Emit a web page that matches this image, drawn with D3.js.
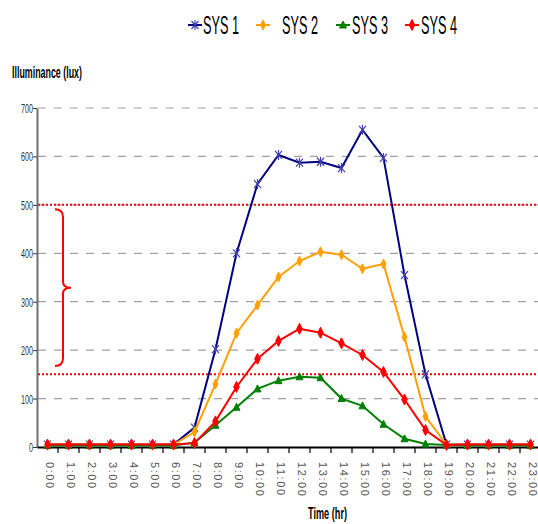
<!DOCTYPE html>
<html>
<head>
<meta charset="utf-8">
<script src="https://d3js.org/d3.v7.min.js"></script>
<style>
  body { margin: 0; background: #fff; }
  text { font-family: "Liberation Sans", Arial, sans-serif; }
</style>
</head>
<body>
<svg id="chart" width="538" height="524"></svg>
<script>
// ---- data ----
var hours = ["0:00","1:00","2:00","3:00","4:00","5:00","6:00","7:00","8:00","9:00","10:00","11:00",
             "12:00","13:00","14:00","15:00","16:00","17:00","18:00","19:00","20:00","21:00","22:00","23:00"]
var sys1 = [5,5,5,5,5,5,5,40,202,400,543,603,587,589,576,655,597,355,150,5,5,5,5,5]
var sys2 = [5,5,5,5,5,5,5,31,130,235,293,351,384,403,397,368,378,227,63,5,5,5,5,5]
var sys3 = [3,3,3,3,3,3,3,9,45,82,120,137,145,143,100,85,47,17,6,4,3,3,3,3]
var sys4 = [5,5,5,5,5,5,5,8,53,124,182,219,244,236,214,190,155,98,35,4,5,5,5,5]
var seriesNames = ["SYS 1","SYS 2","SYS 3","SYS 4"]
var seriesColors = ["#000080","#ffa000","#008000","#ff0000"]
var yTicks = [0,100,200,300,400,500,600,700]
var limits = [500,150]
var braceRange = [167,495]

var svg = d3.select("#chart")
// note: "top" is taken by window.top, so plot edges get their own names
var plotLeft = 37, plotRight = 541, plotTop = 108, plotBottom = 447

var x = d3.scaleBand().domain(hours).range([plotLeft, plotRight])
var y = d3.scaleLinear().domain([0, 700]).range([plotBottom, plotTop])

// gridlines
svg.append("g").selectAll("line")
  .data(yTicks.filter(function(d) { return d > 0 }))
  .enter().append("line")
  .attr("x1", plotLeft + 1).attr("x2", 538)
  .attr("y1", function(d) { return y(d) }).attr("y2", function(d) { return y(d) })
  .attr("stroke", "#a0a0a0").attr("stroke-width", 1.2)
  .attr("stroke-dasharray", "8,8")

// threshold lines
svg.append("g").selectAll("line")
  .data(limits).enter().append("line")
  .attr("x1", plotLeft + 1).attr("x2", 536)
  .attr("y1", function(d) { return y(d) }).attr("y2", function(d) { return y(d) })
  .attr("stroke", "#ff0000").attr("stroke-width", 2)
  .attr("stroke-dasharray", "2,2")

// brace
var bt = y(braceRange[1]) + 2, bb = y(braceRange[0]), bm = (bt + bb) / 2
svg.append("path")
  .attr("d", "M55," + bt + " Q63," + bt + " 63," + (bt + 8) +
    " L63," + (bm - 6) + " Q63," + bm + " 71," + bm +
    " Q63," + bm + " 63," + (bm + 6) +
    " L63," + (bb - 8) + " Q63," + bb + " 55," + bb)
  .attr("fill", "none").attr("stroke", "#ff0000").attr("stroke-width", 2)

// y axis
var yAxis = svg.append("g")
  .attr("transform", "translate(" + plotLeft + ",0)")
  .call(d3.axisLeft(y).tickValues(yTicks).tickSize(4).tickSizeOuter(0))
yAxis.select(".domain").attr("stroke", "#707070").attr("stroke-width", 2)
yAxis.selectAll(".tick line").attr("stroke", "#333")
yAxis.selectAll(".tick text")
  .attr("x", -4).attr("dy", "0.35em")
  .attr("font-size", 13).attr("fill", "#333")
  .attr("textLength", function(d) { return d === 0 ? 4 : 12 })
  .attr("lengthAdjust", "spacingAndGlyphs")

// x axis
var xAxis = svg.append("g")
  .attr("transform", "translate(0," + plotBottom + ")")
  .call(d3.axisBottom(x).tickSize(0).tickSizeOuter(0))
xAxis.select(".domain").attr("stroke", "#000").attr("stroke-width", 2)
xAxis.selectAll(".tick text")
  .attr("transform", "rotate(90)")
  .attr("x", 15).attr("y", -2).attr("dy", "0.35em")
  .attr("text-anchor", "start")
  .attr("font-size", 11).attr("fill", "#555")
  .attr("letter-spacing", 1.6)
// tick marks between categories
svg.append("g").selectAll("line")
  .data(hours.slice(1))
  .enter().append("line")
  .attr("x1", function(d) { return x(d) }).attr("x2", function(d) { return x(d) })
  .attr("y1", plotBottom).attr("y2", plotBottom + 6)
  .attr("stroke", "#000").attr("stroke-width", 1.2)

// marker shapes
function markerPath(i) {
  if (i === 0) return "M0,-5L0,5M-3.5,-4L3.5,4M-3.5,4L3.5,-4"
  if (i === 1) return "M0,-5L2.5,0L0,5L-2.5,0Z"
  if (i === 2) return "M0,-4L3.5,3L-3.5,3Z"
  return "M0,-5.5L2.8,0L0,5.5L-2.8,0Z"
}
function drawMarker(g, i) {
  var p = g.append("path").attr("d", markerPath(i))
  if (i === 0) p.attr("fill", "none").attr("stroke", "#4040b0").attr("stroke-width", 1.2)
  else p.attr("fill", seriesColors[i]).attr("stroke", seriesColors[i]).attr("stroke-width", 1)
}

var allSeries = [sys1, sys2, sys3, sys4]
var line = d3.line()
  .x(function(d, i) { return x(hours[i]) + x.bandwidth() / 2 })
  .y(function(d) { return y(d) })

allSeries.forEach(function(vals, si) {
  var g = svg.append("g")
  g.append("path").datum(vals)
    .attr("fill", "none").attr("stroke", seriesColors[si]).attr("stroke-width", 2)
    .attr("d", line)
  vals.forEach(function(v, i) {
    var m = g.append("g")
      .attr("transform", "translate(" + (x(hours[i]) + x.bandwidth() / 2) + "," + y(v) + ")")
    drawMarker(m, si)
  })
})

// legend
var legendX = [188, 256, 336, 405]
seriesNames.forEach(function(name, i) {
  var g = svg.append("g").attr("transform", "translate(" + legendX[i] + ",25)")
  g.append("line").attr("x1", 0).attr("x2", 14).attr("stroke", seriesColors[i]).attr("stroke-width", 2)
  var m = g.append("g").attr("transform", "translate(7,0)")
  drawMarker(m, i)
  g.append("text").attr("x", i === 0 ? 15 : (i === 1 ? 26 : 16)).attr("y", 9)
    .attr("font-size", 25).attr("fill", "#000")
    .attr("textLength", 36).attr("lengthAdjust", "spacingAndGlyphs")
    .text(name)
})

// axis titles
svg.append("text").attr("x", 12).attr("y", 78)
  .attr("font-size", 16).attr("font-weight", "bold")
  .attr("textLength", 70).attr("lengthAdjust", "spacingAndGlyphs")
  .text("Illuminance (lux)")
svg.append("text").attr("x", 308).attr("y", 519)
  .attr("font-size", 17).attr("font-weight", "bold")
  .attr("textLength", 39).attr("lengthAdjust", "spacingAndGlyphs")
  .text("Time (hr)")
</script>
</body>
</html>
